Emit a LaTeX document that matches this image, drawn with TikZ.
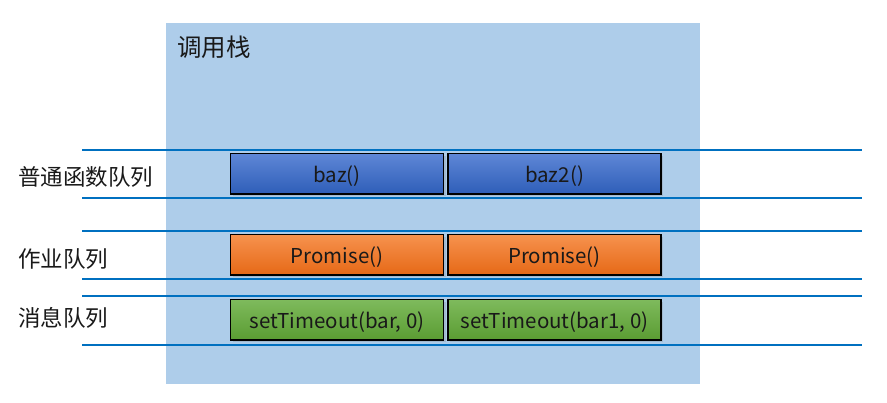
\documentclass[tikz,border=0pt]{standalone}
\usepackage{fontspec}
\setmainfont{Noto Sans CJK SC}
\usetikzlibrary{shadows}

\definecolor{stackbg}{RGB}{174,205,234}
\definecolor{rulecol}{RGB}{0,112,192}
\definecolor{fnTop}{RGB}{94,134,214}
\definecolor{fnBot}{RGB}{46,94,184}
\definecolor{jobTop}{RGB}{246,146,78}
\definecolor{jobBot}{RGB}{230,104,22}
\definecolor{msgTop}{RGB}{126,186,92}
\definecolor{msgBot}{RGB}{90,156,50}

\tikzset{
  qbox/.style={draw=black, line width=1.5pt, minimum width=213pt, minimum height=40.5pt,
    inner sep=0pt, text height=19pt, text depth=2pt, text=black!90,
    font=\fontsize{20.5}{24}\selectfont,
    drop shadow={opacity=0.25, shadow xshift=2pt, shadow yshift=-2pt}},
  fnbox/.style={qbox, top color=fnTop, bottom color=fnBot},
  jobbox/.style={qbox, top color=jobTop, bottom color=jobBot},
  msgbox/.style={qbox, top color=msgTop, bottom color=msgBot},
  qlabel/.style={anchor=west, inner sep=0pt, text=black!90, font=\fontsize{22.5}{26}\selectfont},
  qrule/.style={draw=rulecol, line width=1.5pt}
}

\begin{document}
\begin{tikzpicture}[x=1pt, y=-1pt]
		\useasboundingbox (0, 0) rectangle (887, 403);

		% call stack area
		\fill[stackbg] (166, 23) rectangle (700, 384);
		\node[qlabel, font=\fontsize{24.5}{28}\selectfont] (stack) at (177, 47) {调用栈};

		% queue borders
		\foreach \y in {150, 198, 231, 279, 296, 345}
			\draw[qrule] (82, \y) -- (862, \y);

		% queue names
		\node[qlabel] (fnq) at (18, 177) {普通函数队列};
		\node[qlabel] (jobq) at (18, 259) {作业队列};
		\node[qlabel] (msgq) at (18, 318) {消息队列};

		% tasks
		\node[fnbox] (baz) at (337, 174) {baz()};
		\node[fnbox] (baz2) at (554.5, 174) {baz2()};
		\node[jobbox] (prom1) at (337, 255) {Promise()};
		\node[jobbox] (prom2) at (554.5, 255) {Promise()};
		\node[msgbox] (tmo1) at (337, 320) {setTimeout(bar, 0)};
		\node[msgbox] (tmo2) at (554.5, 320) {setTimeout(bar1, 0)};
	\end{tikzpicture}
\end{document}
